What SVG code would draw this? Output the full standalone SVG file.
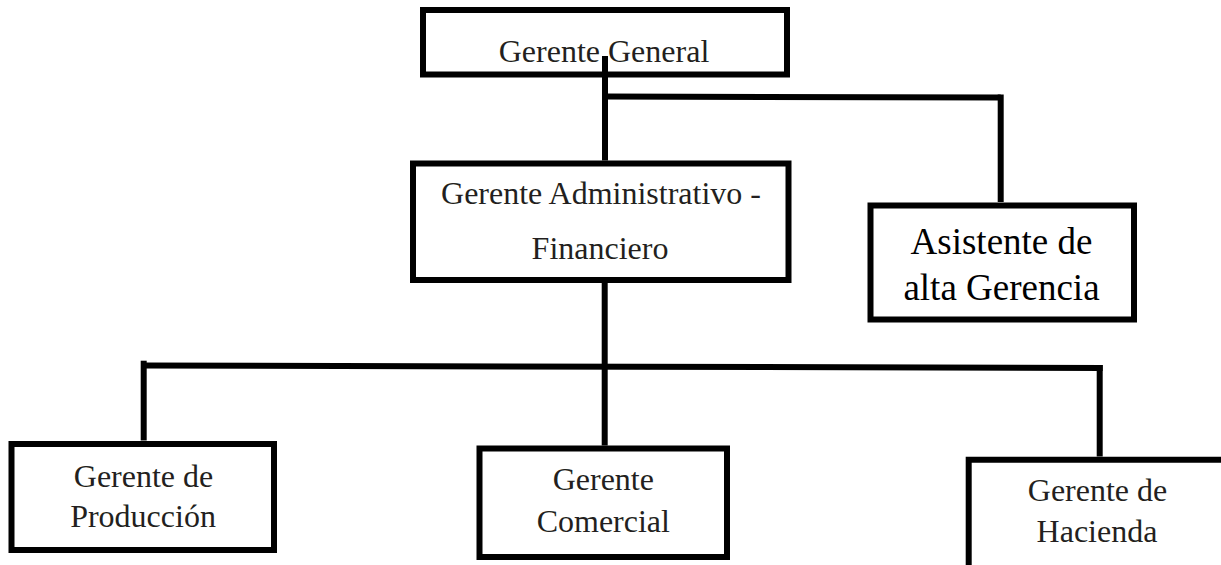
<svg xmlns="http://www.w3.org/2000/svg" width="1221" height="565" viewBox="0 0 1221 565">
  <style>
    .box { fill: #ffffff; stroke: #000000; stroke-width: 6; }
    .open { fill: none; stroke: #000000; stroke-width: 6; }
    .wire { fill: none; stroke: #000000; stroke-width: 6; stroke-linecap: butt; }
    .label { font-family: "Liberation Serif", "Times New Roman", serif; font-size: 32px; fill: #231f20; text-anchor: middle; }
    .big { font-size: 37px; fill: #000000; }
  </style>
  <rect width="1221" height="565" fill="#ffffff"/>

  <!-- boxes -->
  <g id="gerente-general">
    <rect class="box" x="423" y="10" width="364" height="64.5"/>
    <text class="label" x="604" y="61.5">Gerente General</text>
  </g>

  <g id="gerente-administrativo">
    <rect class="box" x="413" y="163.5" width="375.5" height="116.5"/>
    <text class="label" x="601" y="204">Gerente Administrativo -</text>
    <text class="label" x="600" y="259">Financiero</text>
  </g>

  <g id="asistente">
    <rect class="box" x="870.5" y="205.5" width="263.5" height="114"/>
    <text class="label big" x="1001.5" y="253.5">Asistente de</text>
    <text class="label big" x="1001.5" y="300">alta Gerencia</text>
  </g>

  <g id="gerente-produccion">
    <rect class="box" x="11.5" y="444" width="262.5" height="106"/>
    <text class="label" x="143.5" y="486.5">Gerente de</text>
    <text class="label" x="143" y="526.5">Producción</text>
  </g>

  <g id="gerente-comercial">
    <rect class="box" x="479.5" y="448.5" width="247.5" height="108.5"/>
    <text class="label" x="603.3" y="490">Gerente</text>
    <text class="label" x="603.3" y="531.5">Comercial</text>
  </g>

  <g id="gerente-hacienda">
    <path class="open" d="M968.7 570 V459.7 H1226"/>
    <text class="label" x="1097.5" y="501">Gerente de</text>
    <text class="label" x="1097" y="541.5">Hacienda</text>
  </g>

  <!-- connectors -->
  <g id="connectors">
    <line class="wire" x1="605" y1="56" x2="605" y2="160.5"/>
    <line class="wire" x1="605" y1="96.5" x2="1000.7" y2="97.5"/>
    <line class="wire" x1="1000.7" y1="94.5" x2="1000.7" y2="202"/>
    <line class="wire" x1="604.7" y1="283" x2="604.7" y2="445.5"/>
    <line class="wire" x1="143.7" y1="365.5" x2="1102.7" y2="368"/>
    <line class="wire" x1="143.7" y1="360.7" x2="143.7" y2="440.5"/>
    <line class="wire" x1="1099.7" y1="365" x2="1099.7" y2="456.5"/>
  </g>
</svg>
